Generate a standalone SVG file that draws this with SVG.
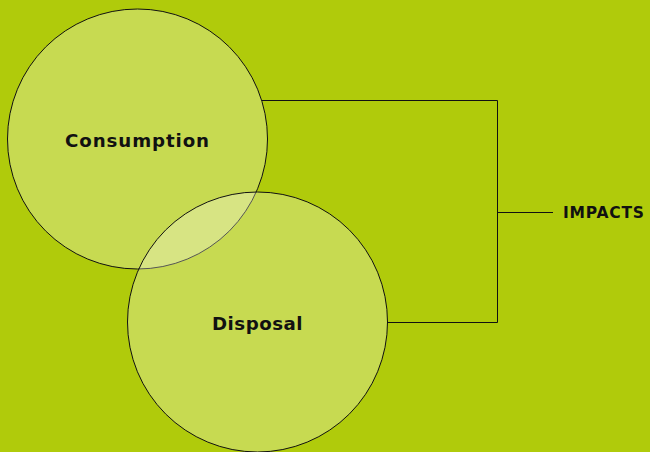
<svg xmlns="http://www.w3.org/2000/svg" width="650" height="452" viewBox="0 0 650 452">
<style>
.c{fill:#ffffff;fill-opacity:0.29;stroke:#111;stroke-width:1}
.t{font-family:"DejaVu Sans","Open Sans",sans-serif;font-weight:700;fill:#111;}
.l{fill:none;stroke:#111;stroke-width:1}
</style>
<rect width="650" height="452" fill="#b0cb0b"/>
<g id="consumption">
<circle class="c" cx="137.5" cy="139" r="130"/>
<text class="t" x="137.5" y="146.5" font-size="18.2" text-anchor="middle" letter-spacing="0.9">Consumption</text>
</g>
<g id="disposal">
<circle class="c" cx="257.5" cy="322" r="130"/>
<text class="t" x="257.5" y="329.5" font-size="18.2" text-anchor="middle" letter-spacing="0.5">Disposal</text>
</g>
<g id="connectors">
<polyline class="l" points="262,100.5 497.5,100.5 497.5,322.5 387,322.5"/>
<line class="l" x1="497.5" y1="212.5" x2="553" y2="212.5"/>
</g>
<g id="impacts">
<text class="t" x="563" y="218" font-size="15.5" letter-spacing="0.8">IMPACTS</text>
</g>
</svg>
